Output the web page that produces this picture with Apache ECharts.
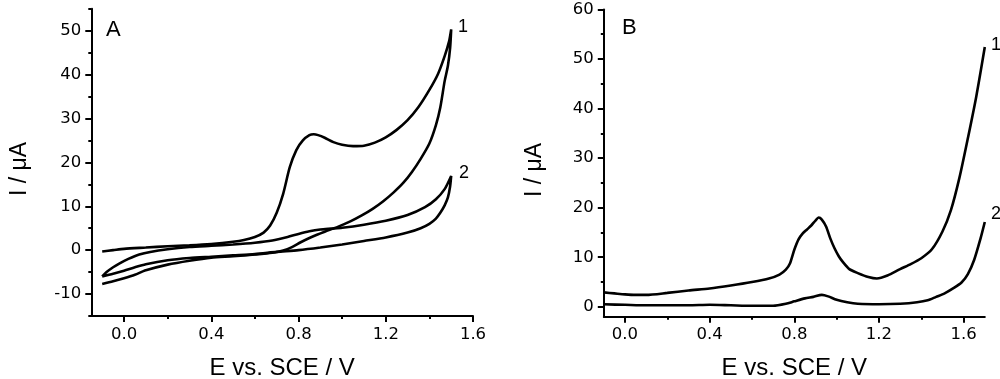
<!DOCTYPE html>
<html>
<head>
<meta charset="utf-8">
<script src="https://cdn.jsdelivr.net/npm/echarts@6/dist/echarts.min.js"></script>
<style>
html,body{margin:0;padding:0;background:#fff;}
#c{width:1000px;height:379px;}
</style>
</head>
<body>
<div id="c"></div>
<script>
// ---------- Panel A (cyclic voltammograms) ----------
const A1_fwd_E = [-0.1,-0.05,0.0,0.1,0.2,0.3,0.4,0.5,0.55,0.6,0.64,0.67,0.7,0.73,0.76,0.79,0.82,0.85,0.87,0.89,0.92,0.96,1.0,1.05,1.1,1.15,1.2,1.25,1.3,1.35,1.4,1.44,1.47,1.49,1.5];
const A1_fwd_I = [-0.3,0.0,0.3,0.6,0.9,1.1,1.4,1.9,2.3,3.0,4.0,5.6,8.5,12.9,18.9,22.8,25.0,26.2,26.4,26.2,25.6,24.6,24.0,23.7,23.8,24.5,25.7,27.4,29.6,32.6,36.5,40.2,44.2,47.5,50.3];
const A1_rev_E = [1.5,1.495,1.485,1.47,1.45,1.43,1.4,1.36,1.32,1.28,1.235,1.19,1.14,1.09,1.04,0.98,0.92,0.86,0.81,0.77,0.73,0.68,0.6,0.5,0.4,0.3,0.2,0.1,0.05,0.0,-0.05,-0.1];
const A1_rev_I = [50.3,46.0,42.0,38.5,32.5,28.5,24.3,20.8,17.8,15.3,13.1,11.2,9.4,7.9,6.6,5.3,4.2,3.0,1.8,0.7,-0.1,-0.6,-1.0,-1.4,-1.7,-2.4,-3.3,-4.6,-5.6,-6.4,-7.1,-7.7];
const A2_fwd_E = [-0.1,-0.08,-0.05,-0.02,0.02,0.07,0.12,0.2,0.3,0.4,0.5,0.6,0.68,0.75,0.8,0.85,0.9,0.95,1.0,1.1,1.2,1.3,1.38,1.43,1.47,1.5];
const A2_fwd_I = [-6.0,-5.0,-3.9,-3.0,-2.0,-1.0,-0.4,0.2,0.7,1.0,1.3,1.7,2.2,3.0,3.7,4.3,4.7,4.9,5.1,5.8,6.7,8.0,9.8,11.6,13.9,16.9];
const A2_rev_E = [1.5,1.495,1.485,1.47,1.45,1.43,1.4,1.36,1.3,1.2,1.1,1.0,0.9,0.8,0.7,0.6,0.5,0.4,0.3,0.2,0.1,0.05,0.0,-0.05,-0.1];
const A2_rev_I = [16.9,14.5,12.0,10.2,8.5,7.2,6.0,5.0,4.0,2.9,2.1,1.3,0.6,0.0,-0.4,-0.9,-1.2,-1.5,-1.8,-2.3,-3.2,-3.9,-4.7,-5.4,-6.0];

// ---------- Panel B (differential pulse voltammograms) ----------
const B1_E = [-0.1,-0.05,0.0,0.05,0.1,0.2,0.3,0.4,0.5,0.6,0.68,0.73,0.76,0.78,0.8,0.82,0.84,0.86,0.88,0.9,0.915,0.93,0.95,0.97,0.99,1.01,1.03,1.06,1.1,1.15,1.19,1.24,1.3,1.35,1.4,1.45,1.5,1.54,1.58,1.62,1.66,1.7];
const B1_I = [2.9,2.7,2.5,2.4,2.4,2.8,3.3,3.7,4.3,5.0,5.7,6.5,7.5,8.8,11.5,13.6,14.8,15.6,16.4,17.4,18.0,17.6,16.2,13.8,11.8,10.2,9.0,7.6,6.8,6.0,5.7,6.3,7.6,8.6,9.8,11.6,15.2,19.5,26.0,34.0,42.5,52.4];
const B2_E = [-0.1,0.0,0.1,0.2,0.3,0.4,0.5,0.6,0.7,0.76,0.8,0.85,0.89,0.93,0.96,1.0,1.05,1.1,1.2,1.3,1.38,1.43,1.47,1.51,1.55,1.59,1.62,1.65,1.68,1.7];
const B2_I = [0.5,0.4,0.3,0.3,0.3,0.4,0.3,0.2,0.2,0.6,1.1,1.7,2.0,2.4,2.1,1.4,0.9,0.6,0.5,0.6,0.9,1.3,2.0,2.7,3.7,4.9,6.6,9.5,13.8,17.1];

// ---------- ticks ----------
const A_xMajor = [0.0,0.4,0.8,1.2,1.6];
const A_xMinor = [0.2,0.6,1.0,1.4];
const A_yMajor = [-10,0,10,20,30,40,50];
const A_yMinor = [-15,-5,5,15,25,35,45,55];
const B_xMajor = [0.0,0.4,0.8,1.2,1.6];
const B_xMinor = [0.2,0.6,1.0,1.4];
const B_yMajor = [0,10,20,30,40,50,60];
const B_yMinor = [5,15,25,35,45,55];

const X_TITLE = 'E vs. SCE / V';
const Y_TITLE = 'I / \u03BCA';

function pairs(E, I){ return E.map((e,i)=>[e, I[i]]); }

const INK = '#000';

function mainX(grid, min, max, major){
  return {
    type:'value', gridIndex:grid, min:min, max:max, position:'bottom',
    axisLine:{show:true, onZero:false, lineStyle:{color:INK, width:2}},
    axisTick:{show:true, inside:false, length:6, lineStyle:{color:INK, width:2}, customValues:major},
    axisLabel:{margin:10, customValues:major, formatter:v=>v.toFixed(1),
      fontFamily:'DejaVu Sans', fontSize:16.5, color:INK},
    splitLine:{show:false},
    name:X_TITLE, nameLocation:'middle', nameGap:40,
    nameTextStyle:{fontFamily:'Liberation Sans', fontSize:24, color:INK}
  };
}
function minorX(grid, min, max, minor){
  return {
    type:'value', gridIndex:grid, min:min, max:max, position:'bottom',
    axisLine:{show:false, onZero:false},
    axisTick:{show:true, length:3, lineStyle:{color:INK, width:2}, customValues:minor},
    axisLabel:{show:false, customValues:minor},
    splitLine:{show:false}
  };
}
function mainY(grid, min, max, major){
  return {
    type:'value', gridIndex:grid, min:min, max:max, position:'left',
    axisLine:{show:true, onZero:false, lineStyle:{color:INK, width:2}},
    axisTick:{show:true, length:6, lineStyle:{color:INK, width:2}, customValues:major},
    axisLabel:{margin:10, customValues:major, formatter:v=>String(v),
      fontFamily:'DejaVu Sans', fontSize:16.5, color:INK},
    splitLine:{show:false}
  };
}
function minorY(grid, min, max, minor){
  return {
    type:'value', gridIndex:grid, min:min, max:max, position:'left',
    axisLine:{show:false, onZero:false},
    axisTick:{show:true, length:3, lineStyle:{color:INK, width:2}, customValues:minor},
    axisLabel:{show:false, customValues:minor},
    splitLine:{show:false}
  };
}
function line(xi, yi, data){
  return {
    type:'line', xAxisIndex:xi, yAxisIndex:yi, data:data, showSymbol:false,
    smooth:0.25, animation:false, silent:true,
    lineStyle:{color:INK, width:2.6}
  };
}

const chart = echarts.init(document.getElementById('c'), null, {renderer:'canvas'});
chart.setOption({
  animation:false,
  backgroundColor:'#fff',
  grid:[
    {left:91.3, top:8.7, width:381.7, height:307.3, outerBoundsMode:'none', containLabel:false},
    {left:603.8, top:9.4, width:381, height:307.3, outerBoundsMode:'none', containLabel:false}
  ],
  xAxis:[
    mainX(0, -0.15, 1.6, A_xMajor), minorX(0, -0.15, 1.6, A_xMinor),
    mainX(1, -0.1, 1.7, B_xMajor), minorX(1, -0.1, 1.7, B_xMinor)
  ],
  yAxis:[
    mainY(0, -15, 55, A_yMajor), minorY(0, -15, 55, A_yMinor),
    mainY(1, -2, 60, B_yMajor), minorY(1, -2, 60, B_yMinor)
  ],
  series:[
    line(0, 0, pairs(A1_fwd_E, A1_fwd_I).concat(pairs(A1_rev_E, A1_rev_I).slice(1))),
    line(0, 0, pairs(A2_fwd_E, A2_fwd_I).concat(pairs(A2_rev_E, A2_rev_I).slice(1))),
    line(2, 2, pairs(B1_E, B1_I)),
    line(2, 2, pairs(B2_E, B2_I))
  ],
  graphic:[
    {type:'text', x:20, y:169, rotation:Math.PI/2, style:{text:Y_TITLE, font:'23px "Liberation Sans"', fill:INK, textAlign:'center', textVerticalAlign:'middle'}},
    {type:'text', x:535, y:170, rotation:Math.PI/2, style:{text:Y_TITLE, font:'23px "Liberation Sans"', fill:INK, textAlign:'center', textVerticalAlign:'middle'}},
    {type:'text', x:106, y:30, style:{text:'A', font:'22px "Liberation Sans"', fill:INK, textAlign:'left', textVerticalAlign:'middle'}},
    {type:'text', x:622, y:28, style:{text:'B', font:'22px "Liberation Sans"', fill:INK, textAlign:'left', textVerticalAlign:'middle'}},
    {type:'text', x:458, y:27, style:{text:'1', font:'18px "Liberation Sans"', fill:INK, textAlign:'left', textVerticalAlign:'middle'}},
    {type:'text', x:459, y:173, style:{text:'2', font:'18px "Liberation Sans"', fill:INK, textAlign:'left', textVerticalAlign:'middle'}},
    {type:'text', x:991, y:45, style:{text:'1', font:'18px "Liberation Sans"', fill:INK, textAlign:'left', textVerticalAlign:'middle'}},
    {type:'text', x:991, y:214, style:{text:'2', font:'18px "Liberation Sans"', fill:INK, textAlign:'left', textVerticalAlign:'middle'}}
  ]
});
</script>
</body>
</html>
